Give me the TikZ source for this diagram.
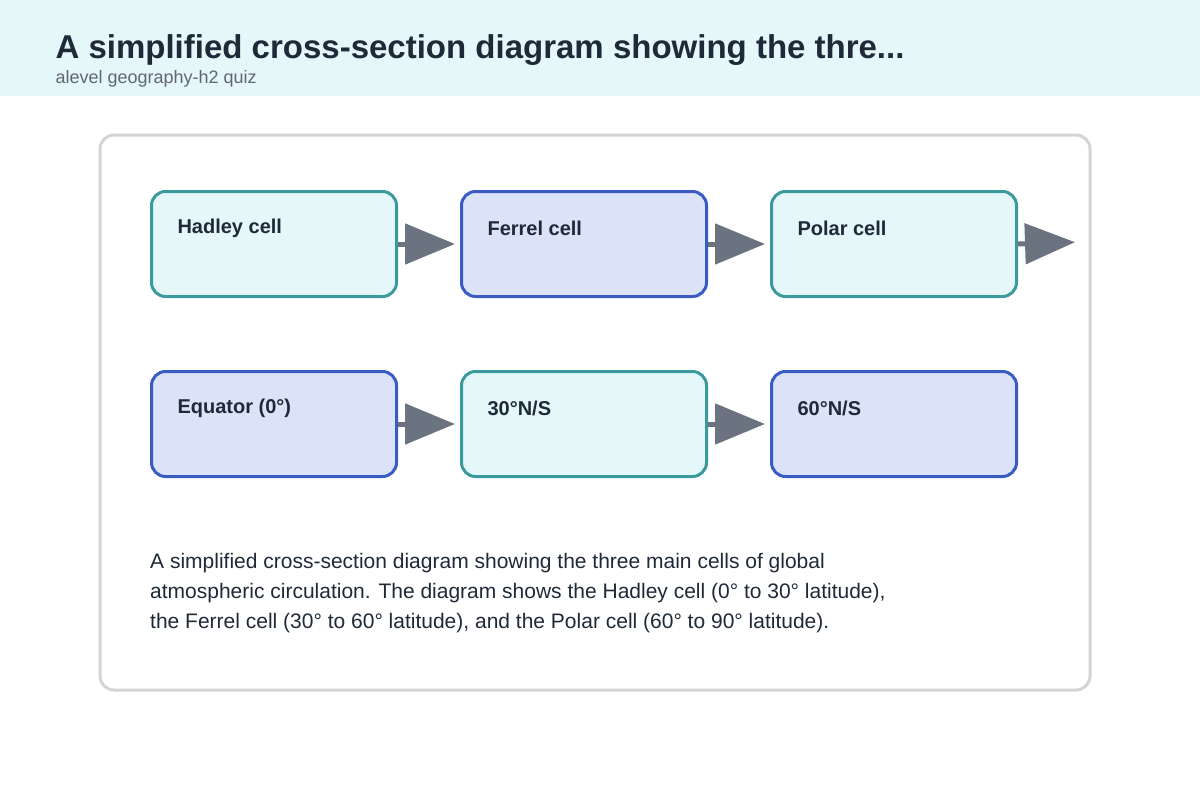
\documentclass[tikz,border=0pt]{standalone}
\usepackage{fontspec}
\setmainfont{Liberation Sans}
\usetikzlibrary{arrows.meta}
\definecolor{hdr}{HTML}{E6F7FA}
\definecolor{cyf}{HTML}{E6F7FA}
\definecolor{cys}{HTML}{3A9A9E}
\definecolor{blf}{HTML}{DCE3F9}
\definecolor{bls}{HTML}{3B5BC4}
\definecolor{arr}{HTML}{6B7280}
\definecolor{txt}{HTML}{1F2937}
\definecolor{frame}{HTML}{D4D4D8}
\begin{document}
\begin{tikzpicture}[x=1pt,y=-1pt,
  box/.style={draw,line width=3pt,rounded corners=14pt,minimum width=245pt,minimum height=105pt,anchor=north west},
  cy/.style={box,fill=cyf,draw=cys},
  bl/.style={box,fill=blf,draw=bls},
  lab/.style={anchor=west,font=\bfseries\fontsize{20}{24}\selectfont,text=txt},
  con/.style={draw=arr,line width=5pt,-{Triangle[length=50pt,width=40pt]},shorten >=5pt}]
\useasboundingbox (0,0) rectangle (1200,800);
\fill[hdr] (0,0) rectangle (1200,96);
\node[anchor=base west,font=\bfseries\fontsize{33}{38}\selectfont,text=txt] (title) at (52,59) {A simplified cross-section diagram showing the thre...};
\node[anchor=base west,font=\fontsize{18}{22}\selectfont,text=arr!90!black] (sub) at (52,84) {alevel geography-h2 quiz};
\draw[frame,line width=3pt,rounded corners=14pt] (100,135) rectangle (1090,690);
\node[cy] (h) at (150,190) {};
\node[bl] (f) at (460,190) {};
\node[cy] (p) at (770,190) {};
\node[bl] (e) at (150,370) {};
\node[cy] (t) at (460,370) {};
\node[bl] (s) at (770,370) {};
\node[lab] at (174,228) {Hadley cell};
\node[lab] at (484,228) {Ferrel cell};
\node[lab] at (794,228) {Polar cell};
\node[lab] at (174,408) {Equator (0°)};
\node[lab] at (484,408) {30°N/S};
\node[lab] at (794,408) {60°N/S};
\coordinate (end) at (1080,242);
\draw[con] (h.east) -- (f.west);
\draw[con] (f.east) -- (p.west);
\draw[con] (p.east) -- (end);
\draw[con] (e.east) -- (t.west);
\draw[con] (t.east) -- (s.west);
\node[anchor=north west,align=left,font=\fontsize{21}{30}\selectfont,text=txt,inner sep=0pt] (cap) at (150,553) {A simplified cross-section diagram showing the three main cells of global\\atmospheric circulation. The diagram shows the Hadley cell (0° to 30° latitude),\\the Ferrel cell (30° to 60° latitude), and the Polar cell (60° to 90° latitude).};
\end{tikzpicture}
\end{document}
